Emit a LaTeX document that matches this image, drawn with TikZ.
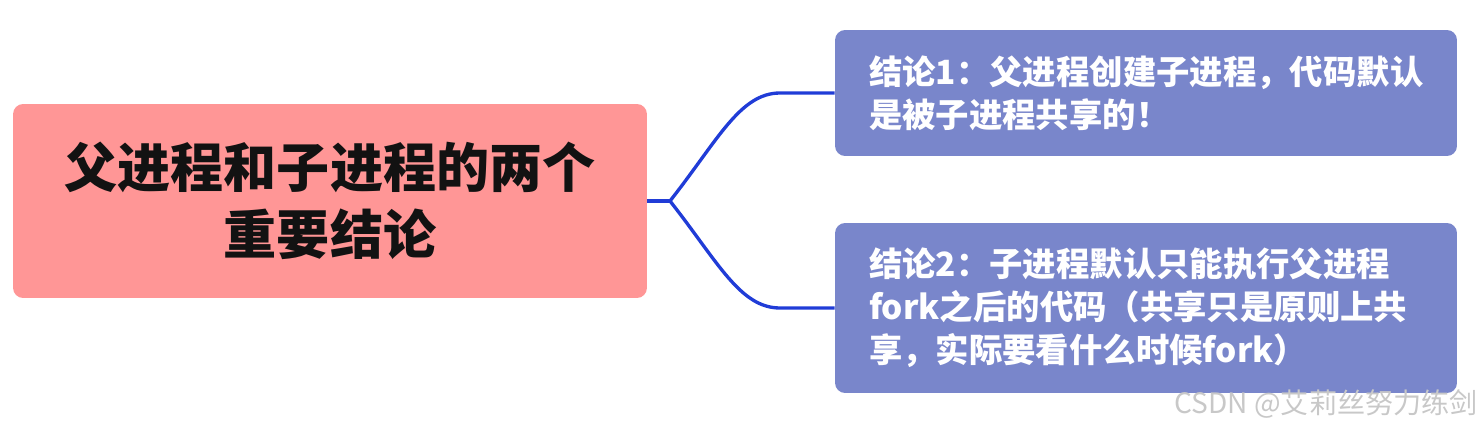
\documentclass[tikz,border=0pt]{standalone}
\usepackage{fontspec}
\usepackage{xcolor}
\setmainfont{Noto Sans CJK SC}

\definecolor{rootpink}{RGB}{255,150,150}
\definecolor{leafblue}{RGB}{121,134,203}
\definecolor{linkblue}{RGB}{32,60,215}
\definecolor{markgray}{RGB}{200,200,200}

\tikzset{
  rootbox/.style={fill=rootpink,rounded corners=0.2cm,minimum width=12.68cm,minimum height=3.88cm,
    align=center,font=\fontsize{30.2pt}{38pt}\selectfont\bfseries,text=black!93},
  leafbox/.style={fill=leafblue,rounded corners=0.2cm,text width=11.08cm,inner xsep=0.68cm,
    align=left,font=\fontsize{19pt}{24.4pt}\selectfont\bfseries,text=white},
  link/.style={draw=linkblue,line width=1.9pt}
}

\begin{document}
\begin{tikzpicture}[x=0.02cm,y=-0.02cm]
\useasboundingbox (0,0) rectangle (1483,429);

\node[rootbox] (root) at (330,201) {父进程和子进程的两个\\重要结论};
\node[leafbox,minimum height=2.52cm] (first) at (1146,93)
  {结论1：父进程创建子进程，代码默认\\是被子进程共享的！};
\node[leafbox,minimum height=3.4cm] (second) at (1146,308)
  {结论2：子进程默认只能执行父进程\\fork之后的代码（共享只是原则上共\\享，实际要看什么时候fork）};

\coordinate (fork) at (670,201);
\draw[link] (root.east) -- (fork);
\draw[link] (fork) .. controls (718,140) and (740,93) .. (780,93) -- (first.west);
\draw[link] (fork) .. controls (718,262) and (740,308) .. (780,308) -- (second.west);

\node[anchor=east,inner sep=0pt,text=markgray,font=\fontsize{16pt}{18pt}\selectfont] (mark) at (1478,404)
  {CSDN @艾莉丝努力练剑};
\end{tikzpicture}
\end{document}
